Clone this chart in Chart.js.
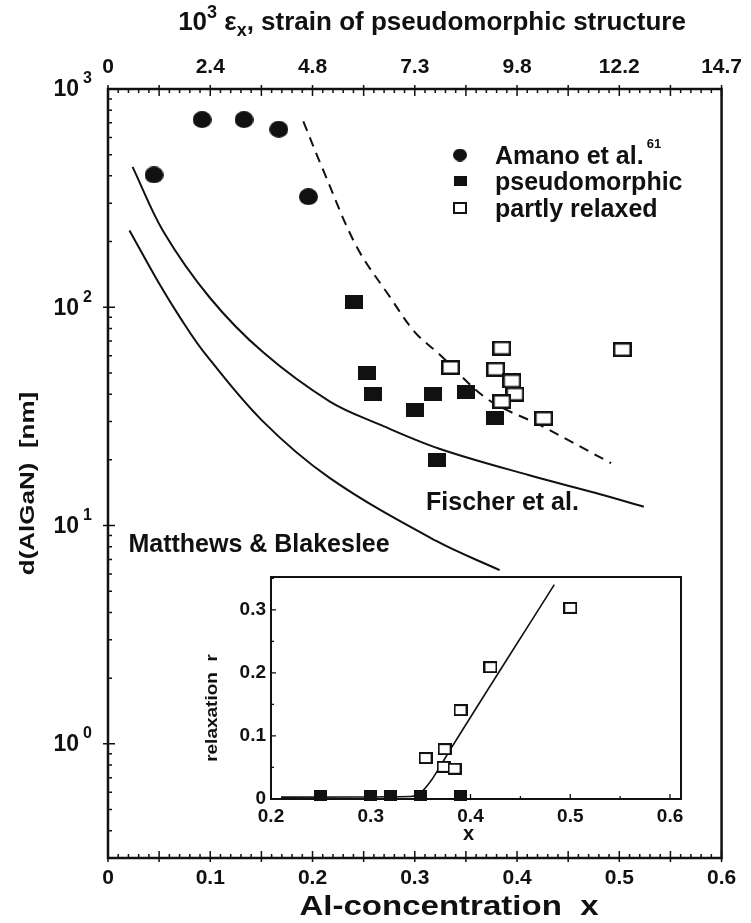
<!DOCTYPE html>
<html>
<head>
<meta charset="utf-8">
<script src="https://cdn.jsdelivr.net/npm/chart.js@4.4.1/dist/chart.umd.min.js"></script>
<style>
  html, body { margin: 0; padding: 0; background: #fff; }
  #wrap { position: relative; width: 751px; height: 923px; }
  #main { position: absolute; left: 0; top: 0; }
  #inset { position: absolute; left: 190px; top: 560px; }
</style>
</head>
<body>
<div id="wrap">
  <canvas id="main" width="751" height="923"></canvas>
  <canvas id="inset" width="510" height="290"></canvas>
</div>
<script>
// ---- main plot: layer thickness d(AlGaN) [nm] vs Al-concentration x ----
const amanoX = [0.045, 0.092, 0.133, 0.167, 0.196];
const amanoD = [404, 724, 724, 654, 321];
const pseudoX = [0.241, 0.253, 0.259, 0.300, 0.318, 0.322, 0.350, 0.378];
const pseudoD = [106, 50, 40, 34, 40, 20, 41, 31];
const relaxedX = [0.335, 0.379, 0.385, 0.395, 0.398, 0.385, 0.426, 0.503];
const relaxedD = [53, 52, 65, 46, 40, 37, 31, 64];

// critical thickness curves
const fischerX = [0.024, 0.054, 0.100, 0.152, 0.217, 0.266, 0.324, 0.412, 0.477, 0.524];
const fischerD = [440, 223, 110, 62, 37, 29, 22.5, 17, 14.1, 12.2];
const mbX = [0.021, 0.049, 0.071, 0.093, 0.150, 0.217, 0.321, 0.383];
const mbD = [225, 131, 89, 63, 30.5, 16.5, 8.5, 6.25];
const dashX = [0.191, 0.210, 0.243, 0.276, 0.300, 0.324, 0.371, 0.424, 0.492];
const dashD = [710, 430, 190, 111, 77, 61, 38, 28.6, 19.3];

// ---- inset: relaxation r vs x ----
const inPseudoX = [0.25, 0.30, 0.32, 0.35, 0.39];
const inPseudoR = [0.005, 0.005, 0.005, 0.006, 0.005];
const inRelaxX = [0.355, 0.373, 0.374, 0.384, 0.390, 0.420, 0.500];
const inRelaxR = [0.065, 0.051, 0.079, 0.048, 0.141, 0.209, 0.303];
const inFitX = [0.21, 0.34, 0.35, 0.36, 0.37, 0.38, 0.484];
const inFitR = [0.003, 0.004, 0.010, 0.028, 0.053, 0.079, 0.340];

// tick labels
const xTickLabels = ['0', '0.1', '0.2', '0.3', '0.4', '0.5', '0.6'];
const strainTicks = [0, 2.45, 4.9, 7.35, 9.8, 12.25, 14.7];
const strainLabels = ['0', '2.4', '4.8', '7.3', '9.8', '12.2', '14.7'];
const dDecades = [1, 10, 100, 1000];
const insetXLabels = ['0.2', '0.3', '0.4', '0.5', '0.6'];
const insetRLabels = ['0', '0.1', '0.2', '0.3'];

const FONT = "'Liberation Sans', Arial, Helvetica, sans-serif";
const INK = '#111';

const pts = (xs, ys) => xs.map((x, i) => ({ x, y: ys[i] }));

// marker bitmaps (the scanned figure is a bit wider than tall)
function marker(w, h, kind, lw) {
  const c = document.createElement('canvas');
  c.width = w; c.height = h;
  const g = c.getContext('2d');
  g.fillStyle = INK; g.strokeStyle = INK;
  if (kind === 'circle') {
    g.beginPath();
    g.ellipse(w / 2, h / 2, w / 2, h / 2, 0, 0, Math.PI * 2);
    g.fill();
  } else if (kind === 'filled') {
    g.fillRect(0, 0, w, h);
  } else {
    g.fillStyle = '#fff';
    g.fillRect(0, 0, w, h);
    g.lineWidth = lw;
    g.strokeRect(lw / 2, lw / 2, w - lw, h - lw);
  }
  return c;
}
const mk = {
  circle: marker(19, 17, 'circle'),
  filled: marker(18, 14, 'filled'),
  open: marker(19, 15, 'open', 2.5),
  legCircle: marker(14, 13, 'circle'),
  legFilled: marker(13, 10, 'filled'),
  legOpen: marker(14, 12, 'open', 2),
  inFilled: marker(13, 11, 'filled'),
  inOpen: marker(14, 12, 'open', 2)
};

// draw text made of pieces (super/subscripts)
function drawRich(ctx, parts, x, y, align) {
  let total = 0;
  parts.forEach(p => { ctx.font = `bold ${p.s}px ${FONT}`; p.w = ctx.measureText(p.t).width; total += p.w; });
  let cx = align === 'center' ? x - total / 2 : x;
  ctx.textAlign = 'left';
  ctx.textBaseline = 'alphabetic';
  parts.forEach(p => {
    ctx.font = `bold ${p.s}px ${FONT}`;
    ctx.fillText(p.t, cx, y + (p.dy || 0));
    cx += p.w;
  });
}

// horizontally widened text, like the scanned original
function wideText(ctx, text, x, y, size, stretch, align) {
  ctx.save();
  ctx.translate(x, y);
  ctx.scale(stretch, 1);
  ctx.font = `bold ${size}px ${FONT}`;
  ctx.textAlign = align;
  ctx.textBaseline = 'alphabetic';
  ctx.fillText(text, 0, 0);
  ctx.restore();
}

const mainDecor = {
  id: 'mainDecor',
  afterDraw(chart) {
    const { ctx, chartArea: a } = chart;
    const sx = chart.scales.x, sy = chart.scales.y;
    ctx.save();
    ctx.strokeStyle = INK;
    ctx.fillStyle = INK;

    // inward tick marks, bottom and top
    ctx.lineWidth = 1.5;
    ctx.beginPath();
    for (let i = 0; i <= 60; i++) {
      const px = sx.getPixelForValue(i / 100);
      const big = i % 5 === 0;
      const inn = big ? 7 : 4, out = big ? 4 : 0;
      ctx.moveTo(px, a.bottom + out); ctx.lineTo(px, a.bottom - inn);
      ctx.moveTo(px, a.top - out); ctx.lineTo(px, a.top + inn);
    }
    for (let e = -1; e < 3; e++) {
      for (let m = 1; m < 10; m++) {
        const v = m * Math.pow(10, e);
        if (v < sy.min) continue;
        const py = sy.getPixelForValue(v);
        const big = m === 1;
        ctx.moveTo(a.left - (big ? 5 : 0), py);
        ctx.lineTo(a.left + (big ? 7 : 4), py);
      }
    }
    ctx.stroke();
    ctx.lineWidth = 2.5;
    ctx.strokeRect(a.left, a.top, a.right - a.left, a.bottom - a.top);

    // log axis labels 10^n
    dDecades.forEach(v => {
      const py = sy.getPixelForValue(v);
      ctx.font = `bold 23px ${FONT}`;
      ctx.textAlign = 'right';
      ctx.textBaseline = 'middle';
      ctx.fillText('10', a.left - 29, py + 1);
      ctx.font = `bold 16px ${FONT}`;
      ctx.textAlign = 'left';
      ctx.fillText(String(Math.round(Math.log10(v))), a.left - 25, py - 10);
    });

    // axis titles
    drawRich(ctx, [
      { t: '10', s: 26 }, { t: '3', s: 18, dy: -12 }, { t: ' \u03B5', s: 26 },
      { t: 'x', s: 18, dy: 6 }, { t: ', strain of pseudomorphic structure', s: 26 }
    ], 432, 30, 'center');
    wideText(ctx, 'Al-concentration  x', 449, 915, 28, 1.18, 'center');

    ctx.save();
    ctx.translate(28, (a.top + a.bottom) / 2 + 10);
    ctx.rotate(-Math.PI / 2);
    ctx.scale(1, 0.78);
    ctx.font = `bold 26px ${FONT}`;
    ctx.textAlign = 'center';
    ctx.textBaseline = 'middle';
    ctx.fillText('d(AlGaN)  [nm]', 0, 0);
    ctx.restore();

    // curve labels, anchored in data units
    ctx.font = `bold 25px ${FONT}`;
    ctx.textAlign = 'left';
    ctx.textBaseline = 'alphabetic';
    ctx.fillText('Fischer et al.', sx.getPixelForValue(0.311), sy.getPixelForValue(11.8));
    ctx.fillText('Matthews & Blakeslee', sx.getPixelForValue(0.020), sy.getPixelForValue(7.6));

    // legend
    const legend = [
      { img: mk.legCircle, text: 'Amano et al.', y: 155 },
      { img: mk.legFilled, text: 'pseudomorphic', y: 181 },
      { img: mk.legOpen, text: 'partly relaxed', y: 208 }
    ];
    legend.forEach(l => {
      ctx.drawImage(l.img, 460 - l.img.width / 2, l.y - l.img.height / 2);
      ctx.font = `bold 25px ${FONT}`;
      ctx.fillText(l.text, 495, l.y + 9);
    });
    ctx.font = `bold 25px ${FONT}`;
    const aw = ctx.measureText('Amano et al.').width;
    ctx.font = `bold 13px ${FONT}`;
    ctx.fillText('61', 495 + aw + 3, 148);
    ctx.restore();
  }
};

const tickFont = { family: FONT, size: 21, weight: 'bold' };
const curve = { showLine: true, pointRadius: 0, borderColor: INK, borderWidth: 2, tension: 0.35, order: 2 };

new Chart(document.getElementById('main'), {
  type: 'scatter',
  data: {
    datasets: [
      { label: 'Amano et al.', data: pts(amanoX, amanoD), pointStyle: mk.circle, pointRadius: 6, clip: false, order: 1 },
      { label: 'pseudomorphic', data: pts(pseudoX, pseudoD), pointStyle: mk.filled, pointRadius: 6, clip: false, order: 1 },
      { label: 'partly relaxed', data: pts(relaxedX, relaxedD), pointStyle: mk.open, pointRadius: 6, clip: false, order: 1 },
      { ...curve, label: 'Fischer et al.', data: pts(fischerX, fischerD) },
      { ...curve, label: 'Matthews & Blakeslee', data: pts(mbX, mbD) },
      { ...curve, label: 'dashed', data: pts(dashX, dashD), borderDash: [10, 7] }
    ]
  },
  options: {
    responsive: false,
    animation: false,
    devicePixelRatio: 1,
    events: [],
    layout: { padding: { right: 29 } },
    plugins: { legend: { display: false }, tooltip: { enabled: false } },
    scales: {
      x: {
        type: 'linear', position: 'bottom', min: 0, max: 0.6,
        border: { display: false }, grid: { display: false, drawTicks: false },
        ticks: { stepSize: 0.1, padding: 8, color: INK, font: tickFont, maxRotation: 0, autoSkip: false,
                 callback: v => xTickLabels[Math.round(v * 10)] },
        afterFit: s => { s.height = 65; }
      },
      xTop: {
        type: 'linear', position: 'top', min: 0, max: 14.7,
        border: { display: false }, grid: { display: false, drawTicks: false },
        afterBuildTicks: s => { s.ticks = strainTicks.map(v => ({ value: v })); },
        ticks: { padding: 9, color: INK, font: tickFont, maxRotation: 0, autoSkip: false,
                 callback: (v, i) => strainLabels[i] },
        afterFit: s => { s.height = 89; }
      },
      y: {
        type: 'logarithmic', position: 'left', min: 0.33, max: 1000,
        border: { display: false }, grid: { display: false, drawTicks: false },
        ticks: { display: false },
        afterFit: s => { s.width = 108; }
      }
    }
  },
  plugins: [mainDecor]
});

// ---- inset ----
const insetDecor = {
  id: 'insetDecor',
  beforeDraw(chart) {
    const { ctx, chartArea: a } = chart;
    ctx.save();
    ctx.fillStyle = '#fff';
    ctx.fillRect(a.left, a.top, a.right - a.left, a.bottom - a.top);
    ctx.restore();
  },
  afterDraw(chart) {
    const { ctx, chartArea: a } = chart;
    const sx = chart.scales.x, sy = chart.scales.y;
    ctx.save();
    ctx.strokeStyle = INK;
    ctx.fillStyle = INK;
    ctx.lineWidth = 1.3;
    ctx.beginPath();
    for (let i = 0; i <= 8; i++) {
      const px = sx.getPixelForValue(0.2 + i * 0.05);
      ctx.moveTo(px, a.bottom); ctx.lineTo(px, a.bottom - (i % 2 ? 3 : 5));
    }
    for (let i = 0; i <= 7; i++) {
      const py = sy.getPixelForValue(i * 0.05);
      ctx.moveTo(a.left, py); ctx.lineTo(a.left + (i % 2 ? 3 : 5), py);
    }
    ctx.stroke();
    ctx.lineWidth = 2;
    ctx.strokeRect(a.left, a.top, a.right - a.left, a.bottom - a.top);

    ctx.font = `bold 20px ${FONT}`;
    ctx.textAlign = 'center';
    ctx.textBaseline = 'alphabetic';
    ctx.fillText('x', sx.getPixelForValue(0.398), 280);

    ctx.save();
    ctx.translate(23, (a.top + a.bottom) / 2 + 20);
    ctx.rotate(-Math.PI / 2);
    ctx.scale(1, 0.85);
    ctx.font = `bold 19px ${FONT}`;
    ctx.textAlign = 'center';
    ctx.textBaseline = 'middle';
    ctx.fillText('relaxation  r', 0, 0);
    ctx.restore();
    ctx.restore();
  }
};

const insetFont = { family: FONT, size: 19, weight: 'bold' };

new Chart(document.getElementById('inset'), {
  type: 'scatter',
  data: {
    datasets: [
      { label: 'pseudomorphic', data: pts(inPseudoX, inPseudoR), pointStyle: mk.inFilled, pointRadius: 5, clip: false, order: 1 },
      { label: 'partly relaxed', data: pts(inRelaxX, inRelaxR), pointStyle: mk.inOpen, pointRadius: 5, clip: false, order: 1 },
      { label: 'fit', data: pts(inFitX, inFitR), showLine: true, pointRadius: 0,
        borderColor: INK, borderWidth: 1.6, cubicInterpolationMode: 'monotone', clip: false, order: 2 }
    ]
  },
  options: {
    responsive: false,
    animation: false,
    devicePixelRatio: 1,
    events: [],
    layout: { padding: { top: 17, right: 19 } },
    plugins: { legend: { display: false }, tooltip: { enabled: false } },
    scales: {
      x: {
        type: 'linear', min: 0.2, max: 0.611,
        border: { display: false }, grid: { display: false, drawTicks: false },
        ticks: { stepSize: 0.1, includeBounds: false, padding: 6, color: INK, font: insetFont, maxRotation: 0,
                 callback: v => insetXLabels[Math.round((v - 0.2) * 10)] },
        afterFit: s => { s.height = 51; }
      },
      y: {
        type: 'linear', min: 0, max: 0.352,
        border: { display: false }, grid: { display: false, drawTicks: false },
        ticks: { stepSize: 0.1, includeBounds: false, padding: 5, color: INK, font: insetFont,
                 callback: v => insetRLabels[Math.round(v * 10)] },
        afterFit: s => { s.width = 81; }
      }
    }
  },
  plugins: [insetDecor]
});
</script>
</body>
</html>
